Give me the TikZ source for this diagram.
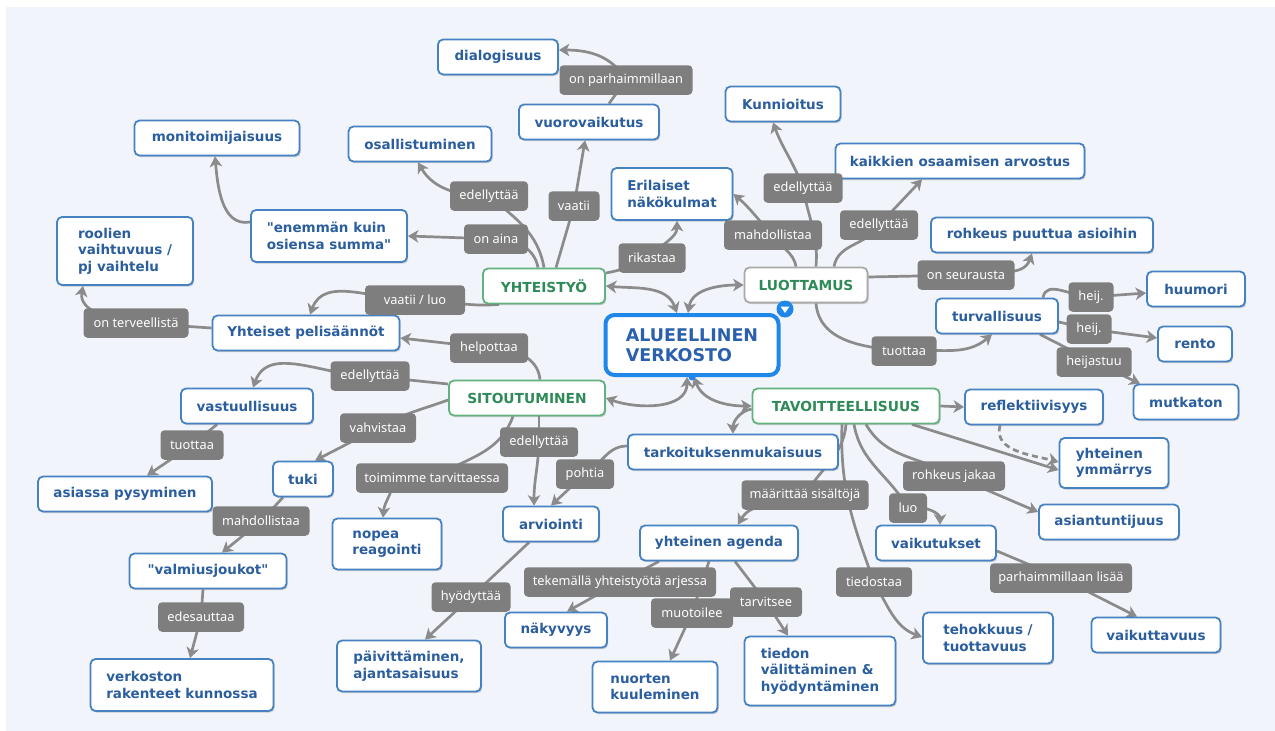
\documentclass[tikz,border=0pt]{standalone}
\usepackage{fontspec}
\usetikzlibrary{arrows.meta,shadows,calc}
\newfontfamily\nf{DejaVu Sans}
\newfontfamily\lf{Noto Sans}
\definecolor{panelc}{HTML}{F1F4FA}
\definecolor{nblue}{HTML}{4682C2}
\definecolor{tblue}{HTML}{2B5E9E}
\definecolor{gborder}{HTML}{63B17F}
\definecolor{gtext}{HTML}{2E8B57}
\definecolor{lborder}{HTML}{A9A9A9}
\definecolor{cblue}{HTML}{1F86EA}
\definecolor{ctext}{HTML}{2A60AC}
\definecolor{labg}{HTML}{7E7E7E}
\definecolor{lineg}{HTML}{8B8B8B}
\pgfdeclarelayer{panel}
\pgfdeclarelayer{edges}
\pgfsetlayers{panel,edges,main}
\tikzset{
  boxbase/.style={rounded corners=5pt, line width=1.8pt, fill=white, inner sep=0pt,
     drop shadow={shadow xshift=1.2pt, shadow yshift=-1.6pt, opacity=0.3, fill=black!60}},
  bn/.style={boxbase, draw=nblue, text=tblue, font=\nf\bfseries\fontsize{13.5}{16.5}\selectfont, align=left, minimum height=35pt},
  gn/.style={boxbase, draw=gborder, text=gtext, font=\nf\bfseries\fontsize{13.8}{16.5}\selectfont, minimum height=35pt},
  lab/.style={rounded corners=4pt, fill=labg, text=white, font=\lf\fontsize{12.8}{14}\selectfont, inner sep=0pt, minimum height=29.5pt},
  conn/.style={draw=lineg, line width=2.7pt},
  arr/.style={conn, -{Stealth[length=10.5pt, width=12.5pt, inset=3pt]}},
  darr/.style={conn, {Stealth[length=10.5pt, width=12.5pt, inset=3pt]}-{Stealth[length=10.5pt, width=12.5pt, inset=3pt]}},
}
\begin{document}
\begin{tikzpicture}[x=1pt,y=-1pt]
\useasboundingbox (0,0) rectangle (1275,731);
\begin{pgfonlayer}{panel}
\fill[white] (0,0) rectangle (1275,731);
\fill[panelc] (6,7) rectangle (1275,731);
\end{pgfonlayer}

% main topics
\node[gn, minimum width=122] (yht) at (544,286) {YHTEISTYÖ};
\node[gn, draw=lborder, minimum width=123] (luot) at (806,285) {LUOTTAMUS};
\node[gn, minimum width=156] (sit) at (527,398) {SITOUTUMINEN};
\node[gn, minimum width=187] (tav) at (846,406) {TAVOITTEELLISUUS};
\node[draw=cblue, line width=4pt, rounded corners=9pt, fill=white, minimum width=173, minimum height=60,
      inner sep=0pt, text=ctext, font=\nf\bfseries\fontsize{17.5}{20.5}\selectfont, align=left,
      drop shadow={shadow xshift=1.2pt, shadow yshift=-1.6pt, opacity=0.3, fill=black!60}]
      (c) at (692,345) {ALUEELLINEN\\VERKOSTO};
\node[circle, fill=cblue, minimum size=17pt, inner sep=0pt] (cmark) at (785,309) {};
\fill[white] ([xshift=-4.5pt,yshift=2.5pt]cmark.center) -- ([xshift=4.5pt,yshift=2.5pt]cmark.center) -- ([yshift=-4pt]cmark.center) -- cycle;
\fill[cblue] (c.south) circle[radius=3.5pt];

% blue nodes
\node[bn, minimum width=165] (monit) at (217,138) {monitoimijaisuus};
\node[bn, minimum width=143] (osall) at (420,144) {osallistuminen};
\node[bn, minimum width=156, minimum height=52] (enemman) at (329,236) {"enemmän kuin\\osiensa summa"};
\node[bn, minimum width=136, minimum height=68] (roolien) at (125,251) {roolien\\vaihtuvuus /\\pj vaihtelu};
\node[bn, minimum width=120] (dialog) at (498,57) {dialogisuus};
\node[bn, minimum width=140] (vuoro) at (589,122) {vuorovaikutus};
\node[bn, minimum width=115] (kunn) at (783,104) {Kunnioitus};
\node[bn, minimum width=121, minimum height=52] (eril) at (672,194) {Erilaiset\\näkökulmat};
\node[bn, minimum width=249] (kaikk) at (960,161) {kaikkien osaamisen arvostus};
\node[bn, minimum width=222] (rohk) at (1042,235) {rohkeus puuttua asioihin};
\node[bn, minimum width=187] (pelis) at (306,333) {Yhteiset pelisäännöt};
\node[bn, minimum width=132] (vastuu) at (247,406) {vastuullisuus};
\node[bn, minimum width=174] (asiassa) at (125,494) {asiassa pysyminen};
\node[bn, minimum width=60] (tuki) at (303,479) {tuki};
\node[bn, minimum width=157] (valm) at (208,571) {"valmiusjoukot"};
\node[bn, minimum width=183, minimum height=52] (verk) at (182,685) {verkoston\\rakenteet kunnossa};
\node[bn, minimum width=109, minimum height=51] (nopea) at (387,544) {nopea\\reagointi};
\node[bn, minimum width=144, minimum height=51] (paiv) at (409,666) {päivittäminen,\\ajantasaisuus};
\node[bn, minimum width=96] (arvi) at (551,524) {arviointi};
\node[bn, minimum width=158] (agenda) at (719,543) {yhteinen agenda};
\node[bn, minimum width=102] (nakyv) at (556,630) {näkyvyys};
\node[bn, minimum width=125, minimum height=51] (nuort) at (655,687) {nuorten\\kuuleminen};
\node[bn, minimum width=151, minimum height=69] (tiedon) at (820,671) {tiedon\\välittäminen \&\\hyödyntäminen};
\node[bn, minimum width=210] (tark) at (733,452) {tarkoituksenmukaisuus};
\node[bn, minimum width=138] (refl) at (1034,407) {reflektiivisyys};
\node[bn, minimum width=109, minimum height=50] (ymm) at (1114,463) {yhteinen\\ymmärrys};
\node[bn, minimum width=122] (turv) at (997,316) {turvallisuus};
\node[bn, minimum width=98] (huum) at (1196,289) {huumori};
\node[bn, minimum width=74] (rento) at (1195,344) {rento};
\node[bn, minimum width=105] (mutk) at (1186,402) {mutkaton};
\node[bn, minimum width=140] (asiant) at (1109,522) {asiantuntijuus};
\node[bn, minimum width=120] (vaik) at (936,543) {vaikutukset};
\node[bn, minimum width=130, minimum height=51] (tehok) at (988,638) {tehokkuus /\\tuottavuus};
\node[bn, minimum width=129] (vaikutt) at (1156,635) {vaikuttavuus};

% labels
\node[lab, minimum width=133] (l1) at (626,80) {on parhaimmillaan};
\node[lab, minimum width=78] (l2) at (489,196) {edellyttää};
\node[lab, minimum width=51] (l3) at (574,206) {vaatii};
\node[lab, minimum width=64] (l4) at (496,239) {on aina};
\node[lab, minimum width=79] (l5) at (803,188) {edellyttää};
\node[lab, minimum width=98] (l6) at (773,235) {mahdollistaa};
\node[lab, minimum width=78] (l7) at (879,225) {edellyttää};
\node[lab, minimum width=67] (l8) at (652,258) {rikastaa};
\node[lab, minimum width=100] (l9) at (415,300) {vaatii / luo};
\node[lab, minimum width=105] (l10) at (136,323) {on terveellistä};
\node[lab, minimum width=78] (l11) at (489,348) {helpottaa};
\node[lab, minimum width=79] (l12) at (370,376) {edellyttää};
\node[lab, minimum width=63] (l13) at (192,445) {tuottaa};
\node[lab, minimum width=76] (l14) at (378,428) {vahvistaa};
\node[lab, minimum width=152] (l15) at (432,478) {toimimme tarvittaessa};
\node[lab, minimum width=78] (l16) at (539,442) {edellyttää};
\node[lab, minimum width=58] (l17) at (585,474) {pohtia};
\node[lab, minimum width=97] (l18) at (261,521) {mahdollistaa};
\node[lab, minimum width=86] (l19) at (201,617) {edesauttaa};
\node[lab, minimum width=79] (l20) at (471,597) {hyödyttää};
\node[lab, minimum width=192] (l21) at (620,582) {tekemällä yhteistyötä arjessa};
\node[lab, minimum width=72] (l23) at (766,602) {tarvitsee};
\node[lab, minimum width=82] (l22) at (692,613) {muotoilee};
\node[lab, minimum width=127] (l24) at (805,495) {määrittää sisältöjä};
\node[lab, minimum width=38] (l25) at (908,508) {luo};
\node[lab, minimum width=102] (l26) at (954,476) {rohkeus jakaa};
\node[lab, minimum width=76] (l27) at (874,582) {tiedostaa};
\node[lab, minimum width=142] (l28) at (1061,578) {parhaimmillaan lisää};
\node[lab, minimum width=97] (l29) at (966,275) {on seurausta};
\node[lab, minimum width=65] (l30) at (904,351) {tuottaa};
\node[lab, minimum width=45] (l31) at (1091,297) {heij.};
\node[lab, minimum width=45] (l32) at (1089,329) {heij.};
\node[lab, minimum width=75] (l33) at (1094,362) {heijastuu};

\begin{pgfonlayer}{edges}
% central relations
\draw[darr] (yht.east) to[out=-5,in=110] ([xshift=-15pt]c.north);
\draw[darr] ([xshift=-4pt]c.north) to[out=80,in=180] (luot.west);
\draw[darr] ([xshift=-5pt]c.south) to[out=-90,in=-20] (sit.east);
\draw[darr] ([xshift=2pt]c.south) to[out=-70,in=180] (tav.west);
\draw[arr] ([yshift=-3pt]tav.west) to[out=190,in=90] (tark.north);
% YHTEISTYO
\draw[conn] (yht.north) to[out=100,in=-40] (l2.center);
\draw[arr] (l2.center) to[out=180,in=-60] ([xshift=-2pt]osall.south);
\draw[conn] ([xshift=-6pt]yht.north) to[out=100,in=0] (l4.center);
\draw[arr] (l4.center) -- (enemman.east);
\draw[conn] ([xshift=12pt]yht.north) -- (l3.center);
\draw[arr] (l3.center) -- ([xshift=-4pt]vuoro.south);
\draw[conn] ([xshift=20pt]vuoro.north) -- (l1.center);
\draw[arr] (l1.center) to[out=120,in=0] ([yshift=7pt]dialog.east);
\draw[arr] ([yshift=14pt]enemman.west) to[out=190,in=-85] ([xshift=-2pt]monit.south);
\draw[conn] ([xshift=-45pt]yht.south) to[out=185,in=0] (l9.center);
\draw[arr] (l9.center) to[out=180,in=70] ([xshift=4pt]pelis.north);
\draw[conn] ([yshift=5pt]pelis.west) -- (l10.center);
\draw[arr] (l10.center) to[out=175,in=-100] ([xshift=-42pt]roolien.south);
\draw[conn] ([yshift=13pt]yht.east) to[out=10,in=200] (l8.center);
\draw[arr] (l8.center) to[out=60,in=-90] ([xshift=5pt]eril.south);
% SITOUTUMINEN
\draw[conn] ([xshift=13pt]sit.north) to[out=95,in=0] (l11.center);
\draw[arr] (l11.center) -- ([yshift=-5pt]pelis.east);
\draw[conn] ([yshift=14pt]sit.west) -- (l12.center);
\draw[arr] (l12.center) to[out=180,in=70] ([xshift=6pt]vastuu.north);
\draw[conn] ([xshift=-30pt]vastuu.south) -- (l13.center);
\draw[arr] (l13.center) -- ([xshift=22pt]asiassa.north);
\draw[conn] ([yshift=-2pt]sit.west) to[out=200,in=30] (l14.center);
\draw[arr] (l14.center) -- ([xshift=12pt]tuki.north);
\draw[conn] ([xshift=-14pt]sit.south) to[out=-110,in=30] (l15.center);
\draw[arr] ([xshift=-38pt]l15.center) to[out=-95,in=85] ([xshift=-4pt]nopea.north);
\draw[conn] ([xshift=12pt]sit.south) -- (l16.center);
\draw[arr] (l16.center) to[out=-92,in=90] ([xshift=-17pt]arvi.north);
\draw[conn] ([yshift=6pt]tark.west) to[out=180,in=30] (l17.center);
\draw[arr] (l17.center) -- (arvi.north);
\draw[conn] ([xshift=-22pt]arvi.south) -- (l20.center);
\draw[arr] (l20.center) -- ([xshift=16pt]paiv.north);
\draw[conn] ([xshift=-20pt]tuki.south) -- (l18.center);
\draw[arr] (l18.center) -- ([xshift=14pt]valm.north);
\draw[conn] ([xshift=-5pt]valm.south) -- (l19.center);
\draw[arr] (l19.center) -- ([xshift=8pt]verk.north);
% TAVOITTEELLISUUS
\draw[arr] (tav.east) -- (refl.west);
\draw[arr, dash pattern=on 6pt off 4pt] ([xshift=-34pt]refl.south) to[out=-105,in=165] ([yshift=1pt]ymm.west);
\draw[arr] ([xshift=66pt]tav.south) -- ([yshift=-7pt]ymm.west);
\draw[conn] ([xshift=20pt]tav.south) to[out=-60,in=150] (l26.center);
\draw[arr] (l26.center) -- ([yshift=10pt]asiant.west);
\draw[conn] ([xshift=8pt]tav.south) to[out=-80,in=120] (l25.center);
\draw[arr] ([xshift=12pt]l25.center) to[out=0,in=90] ([xshift=4pt]vaik.north);
\draw[conn] (tav.south) to[out=-95,in=60] (l24.center);
\draw[arr] (l24.center) to[out=-150,in=60] ([xshift=19pt]agenda.north);
\draw[conn] ([xshift=-4pt]tav.south) to[out=-92,in=110] (l27.center);
\draw[arr] (l27.center) to[out=-60,in=160] ([yshift=1pt]tehok.west);
\draw[conn] ([xshift=-60pt]agenda.south) -- (l21.center);
\draw[arr] (l21.center) -- ([xshift=11pt]nakyv.north);
\draw[conn] ([xshift=-10pt]agenda.south) -- (l22.center);
\draw[arr] (l22.center) -- ([xshift=15pt]nuort.north);
\draw[conn] ([xshift=16pt]agenda.south) -- (l23.center);
\draw[arr] (l23.center) -- ([xshift=-32pt]tiedon.north);
\draw[conn] ([yshift=-8pt]vaik.east) -- (l28.center);
\draw[arr] (l28.center) -- ([xshift=-19pt]vaikutt.north);
% LUOTTAMUS
\draw[conn] ([xshift=10pt]luot.north) to[out=85,in=-80] (l5.center);
\draw[arr] (l5.center) to[out=110,in=-70] ([xshift=-10pt]kunn.south);
\draw[conn] ([xshift=-10pt]luot.north) to[out=100,in=-60] (l6.center);
\draw[arr] (l6.center) to[out=135,in=-40] (eril.east);
\draw[conn] ([xshift=28pt]luot.north) to[out=80,in=-120] (l7.center);
\draw[arr] (l7.center) -- ([xshift=-38pt]kaikk.south);
\draw[conn] ([yshift=8pt]luot.east) -- (l29.center);
\draw[arr] (l29.center) to[out=15,in=-110] ([xshift=-10pt]rohk.south);
\draw[conn] ([xshift=10pt]luot.south) to[out=-85,in=175] (l30.center);
\draw[arr] (l30.center) to[out=5,in=-140] ([xshift=-5pt]turv.south);
\draw[conn] ([xshift=46pt]turv.north) to[out=80,in=180] (l31.center);
\draw[arr] (l31.center) -- ([yshift=-4pt]huum.west);
\draw[conn] ([yshift=-6pt]turv.east) -- (l32.center);
\draw[arr] (l32.center) -- ([yshift=6pt]rento.west);
\draw[conn] ([xshift=43pt]turv.south) -- (l33.center);
\draw[arr] (l33.center) -- ([xshift=-46pt]mutk.north);
\end{pgfonlayer}
\end{tikzpicture}
\end{document}
